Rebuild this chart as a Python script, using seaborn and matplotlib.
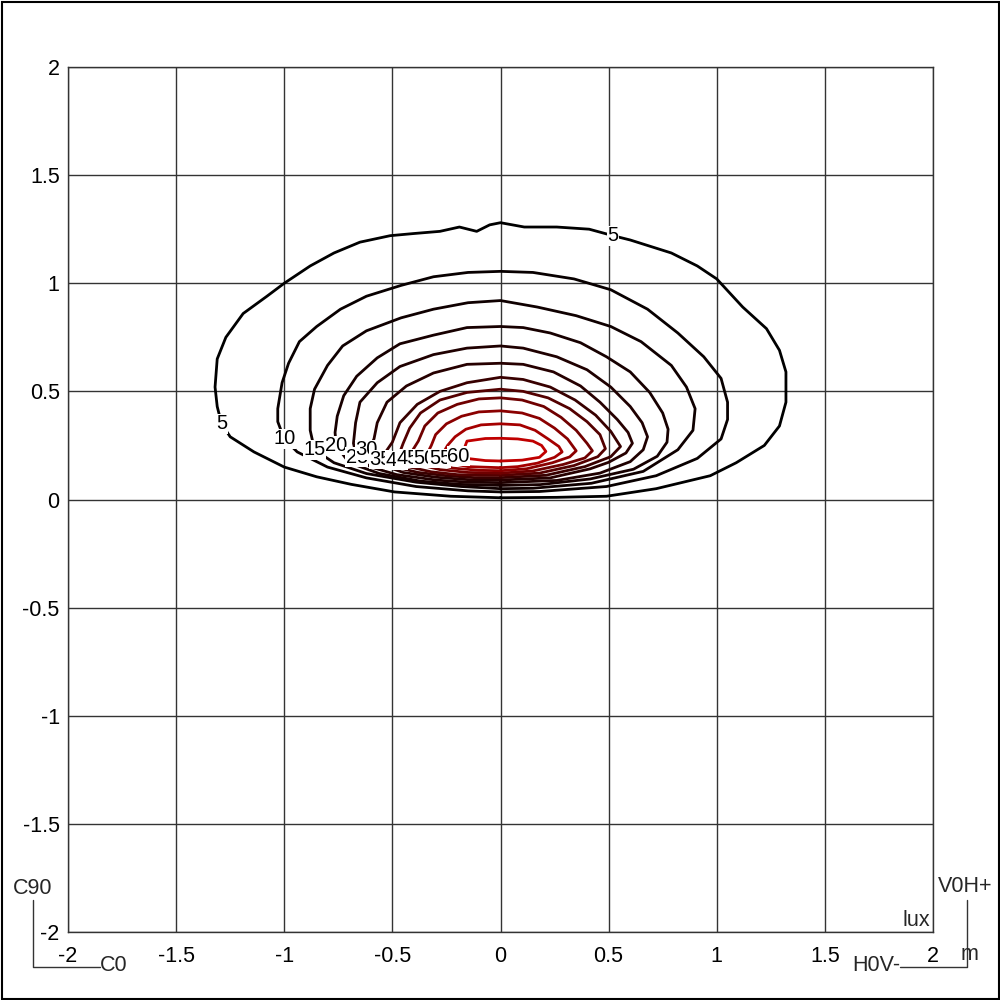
import numpy as np
import matplotlib
matplotlib.use("Agg")
import matplotlib.pyplot as plt
from matplotlib.colors import LinearSegmentedColormap
from matplotlib.patches import Rectangle
import seaborn as sns

# ── Isolux lines (x, y in metres) ────────────────────────────────
lux_5 = [(0.0, 0.008), (0.26, 0.01), (0.49, 0.015), (0.72, 0.05), (0.97, 0.11),
         (1.09, 0.17), (1.22, 0.25), (1.29, 0.34), (1.32, 0.45), (1.32, 0.59),
         (1.29, 0.69), (1.23, 0.79), (1.12, 0.89), (1.0, 1.02), (0.91, 1.08),
         (0.79, 1.14), (0.60, 1.20), (0.52, 1.22), (0.41, 1.25), (0.26, 1.26),
         (0.11, 1.26), (0.0, 1.28), (-0.05, 1.27), (-0.11, 1.24), (-0.19, 1.26),
         (-0.28, 1.24), (-0.40, 1.23), (-0.51, 1.22), (-0.65, 1.19), (-0.77, 1.14),
         (-0.88, 1.08), (-1.0, 1.0), (-1.08, 0.94), (-1.19, 0.86), (-1.27, 0.75),
         (-1.31, 0.65), (-1.32, 0.52), (-1.31, 0.43), (-1.29, 0.35), (-1.25, 0.29),
         (-1.14, 0.22), (-1.0, 0.15), (-0.85, 0.105), (-0.69, 0.07), (-0.49, 0.035),
         (-0.23, 0.015), (0.0, 0.008)]
lux_10 = [(0.0, 0.035), (0.18, 0.037), (0.49, 0.06), (0.72, 0.11), (0.91, 0.19),
          (1.02, 0.28), (1.05, 0.37), (1.05, 0.45), (1.02, 0.56), (0.94, 0.66),
          (0.82, 0.77), (0.68, 0.88), (0.51, 0.97), (0.34, 1.02), (0.15, 1.05),
          (0.0, 1.055), (-0.15, 1.05), (-0.31, 1.03), (-0.46, 0.99), (-0.62, 0.94),
          (-0.74, 0.88), (-0.85, 0.80), (-0.93, 0.73), (-0.98, 0.63), (-1.01, 0.54),
          (-1.03, 0.42), (-1.03, 0.36), (-1.0, 0.28), (-0.94, 0.22), (-0.80, 0.15),
          (-0.62, 0.10), (-0.39, 0.06), (-0.15, 0.04), (0.0, 0.035)]
lux_15 = [(0.0, 0.05), (0.15, 0.052), (0.42, 0.075), (0.66, 0.13), (0.82, 0.23),
          (0.89, 0.32), (0.90, 0.42), (0.86, 0.52), (0.79, 0.62), (0.65, 0.73),
          (0.51, 0.80), (0.35, 0.85), (0.17, 0.89), (0.0, 0.92), (-0.15, 0.91),
          (-0.31, 0.88), (-0.46, 0.84), (-0.62, 0.78), (-0.73, 0.71), (-0.80, 0.62),
          (-0.86, 0.51), (-0.88, 0.42), (-0.88, 0.32), (-0.86, 0.23), (-0.77, 0.17),
          (-0.62, 0.12), (-0.39, 0.08), (-0.18, 0.06), (0.0, 0.05)]
lux_20 = [(0.0, 0.065), (0.185, 0.069), (0.415, 0.095), (0.615, 0.14), (0.725, 0.20),
          (0.77, 0.265), (0.775, 0.325), (0.75, 0.40), (0.69, 0.495), (0.60, 0.59),
          (0.49, 0.66), (0.37, 0.725), (0.23, 0.77), (0.105, 0.795), (0.0, 0.80),
          (-0.155, 0.795), (-0.31, 0.76), (-0.465, 0.72), (-0.57, 0.655), (-0.665, 0.57),
          (-0.725, 0.48), (-0.755, 0.385), (-0.765, 0.31), (-0.76, 0.25), (-0.70, 0.17),
          (-0.56, 0.12), (-0.37, 0.085), (-0.19, 0.07), (0.0, 0.065)]
lux_25 = [(0.0, 0.078), (0.26, 0.088), (0.46, 0.122), (0.60, 0.175), (0.66, 0.23),
          (0.68, 0.29), (0.655, 0.355), (0.60, 0.43), (0.51, 0.52), (0.40, 0.60),
          (0.26, 0.66), (0.105, 0.70), (0.0, 0.71), (-0.155, 0.70), (-0.31, 0.67),
          (-0.465, 0.615), (-0.57, 0.54), (-0.65, 0.45), (-0.67, 0.355), (-0.68, 0.26),
          (-0.665, 0.195), (-0.60, 0.15), (-0.48, 0.115), (-0.30, 0.09),
          (-0.15, 0.08), (0.0, 0.078)]
lux_30 = [(0.0, 0.09), (0.23, 0.10), (0.415, 0.142), (0.50, 0.172), (0.58, 0.215),
          (0.61, 0.26), (0.59, 0.31), (0.54, 0.37), (0.46, 0.45), (0.37, 0.525),
          (0.245, 0.59), (0.105, 0.625), (0.0, 0.63), (-0.155, 0.625), (-0.31, 0.585),
          (-0.435, 0.525), (-0.525, 0.45), (-0.57, 0.355), (-0.585, 0.28), (-0.61, 0.23),
          (-0.55, 0.16), (-0.45, 0.125), (-0.30, 0.103), (-0.14, 0.091), (0.0, 0.09)]
lux_35 = [(0.0, 0.101), (0.21, 0.112), (0.39, 0.152), (0.51, 0.198), (0.555, 0.245),
          (0.51, 0.315), (0.44, 0.39), (0.345, 0.46), (0.23, 0.52), (0.105, 0.555),
          (0.0, 0.565), (-0.155, 0.54), (-0.28, 0.50), (-0.385, 0.44), (-0.465, 0.355),
          (-0.50, 0.265), (-0.555, 0.185), (-0.49, 0.15), (-0.38, 0.125),
          (-0.25, 0.11), (-0.12, 0.101), (0.0, 0.101)]
lux_40 = [(0.0, 0.112), (0.18, 0.122), (0.34, 0.157), (0.45, 0.198), (0.485, 0.235),
          (0.46, 0.30), (0.40, 0.36), (0.32, 0.42), (0.22, 0.47), (0.105, 0.50),
          (0.0, 0.51), (-0.155, 0.495), (-0.28, 0.46), (-0.37, 0.40), (-0.42, 0.33),
          (-0.45, 0.26), (-0.48, 0.18), (-0.42, 0.15), (-0.32, 0.128),
          (-0.20, 0.115), (-0.10, 0.112), (0.0, 0.112)]
lux_45 = [(0.0, 0.122), (0.15, 0.132), (0.29, 0.162), (0.39, 0.192), (0.425, 0.225),
          (0.40, 0.26), (0.35, 0.32), (0.28, 0.38), (0.20, 0.43), (0.10, 0.46),
          (0.0, 0.47), (-0.10, 0.465), (-0.20, 0.44), (-0.29, 0.40), (-0.35, 0.34),
          (-0.38, 0.27), (-0.43, 0.19), (-0.37, 0.16), (-0.28, 0.138),
          (-0.15, 0.125), (0.0, 0.122)]
lux_50 = [(0.0, 0.133), (0.12, 0.142), (0.24, 0.17), (0.32, 0.197), (0.35, 0.225),
          (0.31, 0.28), (0.25, 0.33), (0.18, 0.375), (0.10, 0.40), (0.0, 0.41),
          (-0.10, 0.405), (-0.18, 0.385), (-0.25, 0.35), (-0.30, 0.30), (-0.32, 0.25),
          (-0.35, 0.19), (-0.30, 0.165), (-0.22, 0.145), (-0.10, 0.135), (0.0, 0.133)]
lux_55 = [(0.0, 0.147), (0.08, 0.152), (0.17, 0.168), (0.25, 0.195), (0.285, 0.22),
          (0.27, 0.245), (0.22, 0.28), (0.16, 0.32), (0.09, 0.345), (0.0, 0.35),
          (-0.09, 0.345), (-0.16, 0.325), (-0.21, 0.29), (-0.245, 0.25), (-0.28, 0.19),
          (-0.23, 0.168), (-0.15, 0.152), (0.0, 0.147)]
lux_60 = [(0.0, 0.178), (0.10, 0.182), (0.18, 0.195), (0.21, 0.222), (0.19, 0.25),
          (0.15, 0.27), (0.08, 0.28), (0.0, 0.283), (-0.07, 0.282), (-0.155, 0.27),
          (-0.17, 0.23), (-0.155, 0.19), (-0.07, 0.18), (0.0, 0.178)]

levels = [5, 10, 15, 20, 25, 30, 35, 40, 45, 50, 55, 60]
isolines = [lux_5, lux_10, lux_15, lux_20, lux_25, lux_30,
            lux_35, lux_40, lux_45, lux_50, lux_55, lux_60]

# where the level numbers sit on the lines
label_levels = [5, 5, 10, 15, 20, 25, 30, 35, 40, 45, 50, 55, 60]
label_xy = [(-1.29, 0.35), (0.52, 1.22), (-1.0, 0.28), (-0.86, 0.23), (-0.76, 0.25),
            (-0.665, 0.195), (-0.62, 0.23), (-0.555, 0.185), (-0.48, 0.18),
            (-0.43, 0.19), (-0.35, 0.19), (-0.28, 0.19), (-0.195, 0.20)]

tick_vals = [-2, -1.5, -1, -0.5, 0, 0.5, 1, 1.5, 2]
tick_labels = ["-2", "-1.5", "-1", "-0.5", "0", "0.5", "1", "1.5", "2"]

# ── Style ────────────────────────────────────────────────────────
sns.set_theme(style="white")
plt.rcParams["font.family"] = ["Liberation Sans", "DejaVu Sans"]
FS = 15.5        # ticks and corner notes
FS_LAB = 14.5    # isolux values
GRID = "#333333"

fig = plt.figure(figsize=(10, 10), dpi=100)
ax = fig.add_axes([0.068, 0.068, 0.865, 0.865])

cmap = LinearSegmentedColormap.from_list("lux", ["#000000", "#2a0000", "#c00000"])

for lev, pts in zip(levels, isolines):
    xs = [p[0] for p in pts]
    ys = [p[1] for p in pts]
    c = cmap((lev - levels[0]) / (levels[-1] - levels[0]))
    sns.lineplot(x=xs, y=ys, sort=False, estimator=None, color=c,
                 linewidth=2.0, ax=ax, zorder=3)

for i, (lev, (lx, ly)) in enumerate(zip(label_levels, label_xy)):
    ax.text(lx, ly, str(lev), fontsize=FS_LAB, ha="center", va="center", color="black",
            zorder=10 + i,
            bbox=dict(facecolor="white", edgecolor="none", pad=0.3))

ax.set_xlim(-2, 2)
ax.set_ylim(-2, 2)
ax.set_xticks(tick_vals)
ax.set_yticks(tick_vals)
ax.set_xticklabels(tick_labels, fontsize=FS)
ax.set_yticklabels(tick_labels, fontsize=FS)
ax.tick_params(axis="x", length=0, pad=10, colors="black")
ax.tick_params(axis="y", length=0, pad=6, colors="black")
ax.grid(True, color=GRID, lw=1.0)
ax.set_axisbelow(True)
for s in ax.spines.values():
    s.set_color(GRID)
    s.set_linewidth(1.0)
ax.set_xlabel("")
ax.set_ylabel("")

# ── Corner annotations ───────────────────────────────────────────
fig.text(0.033, 0.111, "C90", fontsize=FS, ha="center", va="center")
fig.text(0.100, 0.0345, "C0", fontsize=FS, ha="left", va="center")
fig.add_artist(plt.Line2D([0.0333, 0.0333, 0.100], [0.100, 0.0333, 0.0333],
                          transform=fig.transFigure, color=GRID, lw=1.0))
fig.text(0.9655, 0.1135, "V0H+", fontsize=FS, ha="center", va="center")
fig.text(0.900, 0.0345, "H0V-", fontsize=FS, ha="right", va="center")
fig.add_artist(plt.Line2D([0.900, 0.9667, 0.9667], [0.0333, 0.0333, 0.100],
                          transform=fig.transFigure, color=GRID, lw=1.0))
fig.text(0.9695, 0.0455, "m", fontsize=FS, ha="center", va="center")
fig.text(0.930, 0.0795, "lux", fontsize=FS, ha="right", va="center")

fig.add_artist(Rectangle((0.0015, 0.0015), 0.997, 0.997, transform=fig.transFigure,
                         fill=False, edgecolor="black", lw=1.5))

fig.savefig("out.png", dpi=100)
